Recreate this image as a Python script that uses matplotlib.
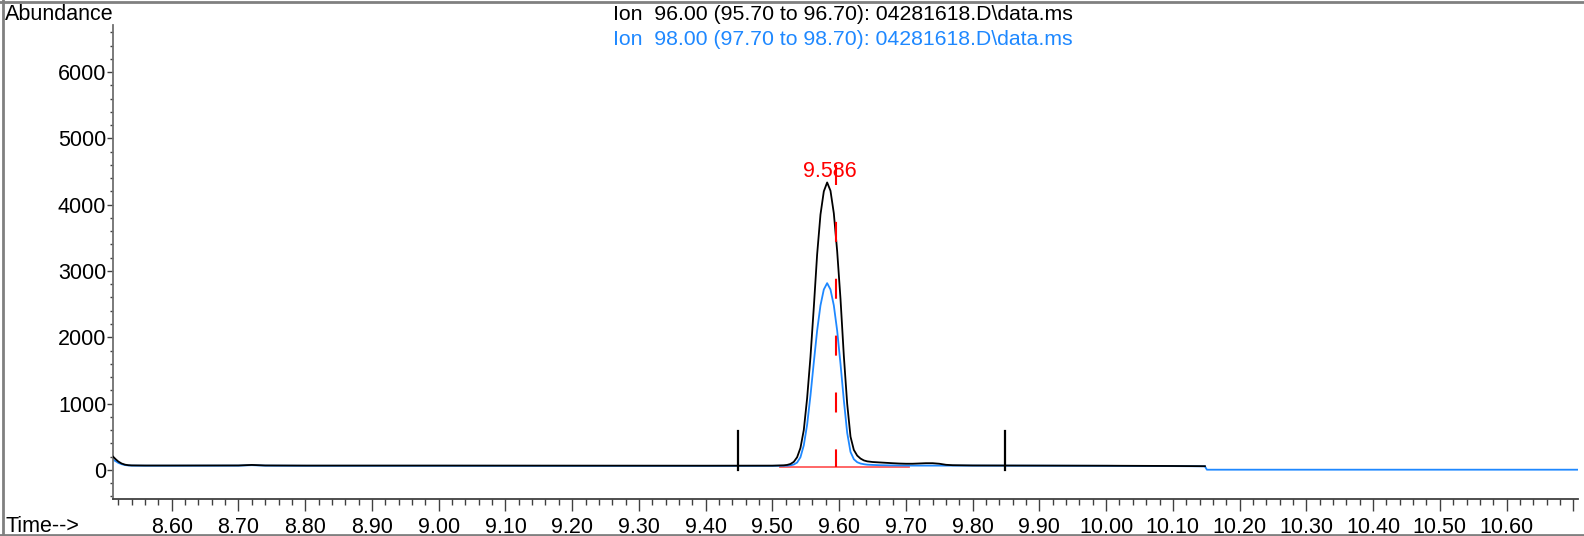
import matplotlib.pyplot as plt
from matplotlib.lines import Line2D
from matplotlib.ticker import MultipleLocator, FuncFormatter

plt.rcParams['font.family'] = ['Liberation Sans', 'DejaVu Sans']

# ion 96 (black trace)
t96 = [8.512, 8.516, 8.520, 8.525, 8.530, 8.535, 8.540, 8.560, 8.600, 8.700, 8.720, 8.740,
       8.800, 9.000, 9.200, 9.400, 9.500, 9.517, 9.522, 9.527, 9.532, 9.537, 9.542, 9.547,
       9.552, 9.557, 9.562, 9.567, 9.572, 9.577, 9.582, 9.587, 9.592, 9.597, 9.602, 9.607,
       9.612, 9.617, 9.622, 9.627, 9.632, 9.637, 9.642, 9.650, 9.660, 9.670, 9.680, 9.690,
       9.700, 9.710, 9.720, 9.730, 9.740, 9.750, 9.760, 9.770, 9.800, 9.850, 9.900, 10.000,
       10.100, 10.148]
y96 = [200, 160, 125, 95, 78, 70, 67, 65, 65, 66, 74, 66,
       64, 64, 63, 62, 63, 68, 74, 88, 120, 190, 330, 600,
       1080, 1700, 2450, 3250, 3850, 4200, 4335, 4210, 3870, 3300, 2580, 1720,
       1000, 500, 300, 215, 170, 142, 128, 118, 112, 106, 100, 95,
       92, 92, 96, 100, 100, 92, 76, 70, 66, 65, 64, 62,
       58, 55]

# ion 98 (blue trace)
t98 = [8.512, 8.516, 8.520, 8.525, 8.530, 8.535, 8.540, 8.560, 8.600, 8.700, 8.720, 8.740,
       8.800, 9.000, 9.200, 9.400, 9.500, 9.522, 9.527, 9.532, 9.537, 9.542, 9.547, 9.552,
       9.557, 9.562, 9.567, 9.572, 9.577, 9.582, 9.587, 9.592, 9.597, 9.602, 9.607, 9.612,
       9.617, 9.622, 9.627, 9.632, 9.637, 9.642, 9.650, 9.660, 9.680, 9.700, 9.800, 9.900,
       10.000, 10.100, 10.148, 10.151, 10.400, 10.707]
y98 = [155, 130, 105, 85, 72, 66, 63, 62, 62, 63, 70, 63,
       61, 61, 60, 60, 60, 62, 68, 80, 110, 190, 370, 680,
       1120, 1620, 2100, 2480, 2720, 2816, 2720, 2480, 2100, 1600, 1050, 560,
       270, 160, 115, 95, 85, 78, 74, 70, 66, 64, 63, 62,
       60, 56, 53, 2, 2, 2]

# integration markers
start_end = [9.448, 9.848]
marker_height = 580
baseline_x = [9.512, 9.704]
baseline_y = [45, 45]
rt_line = 9.596
rt_label = "9.586"

fig = plt.figure(figsize=(15.84, 5.36), dpi=100)
ax = fig.add_axes([113 / 1584, 1 - 499 / 536, (1578 - 113) / 1584, (499 - 25) / 536])

ax.plot(baseline_x, baseline_y, color='#ff5a5a', lw=1.3, zorder=1)
ax.plot(t98, y98, color='#1e88ff', lw=1.3, zorder=2)
ax.plot(t96, y96, color='black', lw=1.3, zorder=3)
for x in start_end:
    ax.plot([x, x], [0, marker_height], color='black', lw=1.6, zorder=4)
ax.plot([rt_line, rt_line], [4600, 50], color='red', lw=1.5, dashes=(9.6, 17.7), zorder=5)
ax.text(9.5866, 4500, rt_label, color='red', fontsize=15.5, ha='center', va='center', zorder=6)

ax.set_xlim(8.512, 10.707)
ax.set_ylim(-440, 6710)
ax.xaxis.set_major_locator(MultipleLocator(0.1))
ax.xaxis.set_minor_locator(MultipleLocator(0.02))
ax.xaxis.set_major_formatter(FuncFormatter(lambda v, p: '' if v > 10.65 else f'{v:.2f}'))
ax.yaxis.set_major_locator(MultipleLocator(1000))
ax.yaxis.set_minor_locator(MultipleLocator(200))

for s in ['top', 'right']:
    ax.spines[s].set_visible(False)
ax.spines['left'].set_color('#707070')
ax.spines['bottom'].set_color('#404040')
ax.spines['left'].set_linewidth(1.3)
ax.spines['bottom'].set_linewidth(1.3)

ax.tick_params(axis='x', which='major', length=8.4, width=1, color='#404040', labelsize=15.5, pad=4.5)
ax.tick_params(axis='x', which='minor', length=4.3, width=1, color='#404040')
ax.tick_params(axis='y', which='major', length=4.3, width=1, color='#404040', labelsize=15.5, pad=0.5)
ax.tick_params(axis='y', which='minor', length=2.2, width=1, color='#404040')

# header texts
fig.text(5 / 1584, 1 - 20.5 / 536, "Abundance", fontsize=15.5, ha='left', va='baseline')
fig.text(5 / 1584, 1 - 532 / 536, "Time-->", fontsize=15.5, ha='left', va='baseline')
fig.text(613 / 1584, 1 - 19.5 / 536, "Ion  96.00 (95.70 to 96.70): 04281618.D\\data.ms",
         fontsize=15.3, ha='left', va='baseline', color='black')
fig.text(613 / 1584, 1 - 45 / 536, "Ion  98.00 (97.70 to 98.70): 04281618.D\\data.ms",
         fontsize=15.3, ha='left', va='baseline', color='#1e88ff')

# outer frame
frame_col = '#808080'
fig.add_artist(Line2D([3 / 1584, 3 / 1584], [0, 1], color=frame_col, lw=2, transform=fig.transFigure))
fig.add_artist(Line2D([0, 1], [1 - 1.5 / 536, 1 - 1.5 / 536], color=frame_col, lw=2, transform=fig.transFigure))
fig.add_artist(Line2D([0, 1], [1.5 / 536, 1.5 / 536], color=frame_col, lw=2, transform=fig.transFigure))

fig.savefig('out.png', dpi=100)
